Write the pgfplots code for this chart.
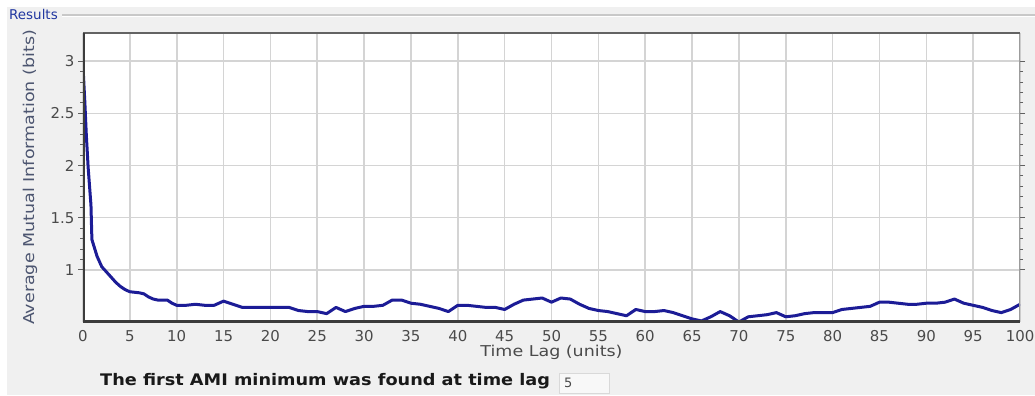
\documentclass[border=0pt]{standalone}
\usepackage{graphicx}
\usepackage{pgfplots}
\pgfplotsset{compat=1.18}
\usepackage{fontspec}
\setmainfont{DejaVu Sans}
\definecolor{bg}{HTML}{F0F0F0}
\definecolor{gridgrey}{HTML}{D4D4D4}
\definecolor{groupline}{HTML}{C8C8C8}
\definecolor{resblue}{HTML}{2036A0}
\definecolor{curve}{RGB}{28,28,150}
\definecolor{labgrey}{HTML}{4A4A4A}
\definecolor{ylabcol}{HTML}{4C5570}
\definecolor{tickgrey}{HTML}{606060}
\definecolor{frameA}{HTML}{3C3C3C}
\definecolor{frameB}{HTML}{9C9C9C}
\begin{document}
\begin{tikzpicture}[x=1bp,y=1bp]
\path[use as bounding box] (0,0) rectangle (1035,395);
\fill[white] (0,0) rectangle (1035,395);
\fill[bg] (7,0) rectangle (1035,388);
\draw[groupline, line width=1.5bp] (62,380) -- (1035,380);
\draw[white, line width=1bp] (62,378.3) -- (1035,378.3);
\node[anchor=west, inner sep=0, text=resblue, font=\fontsize{13.5}{15}\selectfont] at (9,380.5) {Results};
\begin{axis}[
  at={(83bp,73bp)}, anchor=south west,
  scale only axis, width=937bp, height=289bp,
  xmin=0, xmax=100, ymin=0.5, ymax=3.27,
  xtick={0,5,...,100}, ytick={1,1.5,2,2.5,3},
  minor y tick num=4,
  grid=major,
  major grid style={draw=gridgrey, line width=1.6bp},
  axis background/.style={fill=white},
  axis line style={draw=none},
  xtick style={draw=none},
  ytick style={draw=tickgrey, line width=0.9bp},
  tick align=outside,
  major tick length=5bp, minor tick length=3bp,
  ticklabel style={font=\fontsize{15}{17}\selectfont, text=labgrey},
  /pgf/number format/assume math mode=true,
  xlabel={\scalebox{1.17}[1]{Time Lag (units)}},
  xlabel style={at={(axis description cs:0.5,-0.104)}, anchor=center, font=\fontsize{15}{17}\selectfont, text=labgrey},
  ylabel={\scalebox{1.17}[1]{Average Mutual Information (bits)}},
  ylabel style={at={(axis description cs:-0.0566,0.5)}, anchor=center, font=\fontsize{15}{17}\selectfont, text=ylabcol},
]
\addplot[curve, line width=3bp, line join=round] coordinates {
(0,2.95) (0.2,2.6) (0.35,2.3) (0.55,1.98) (0.85,1.62) (0.95,1.29)
(1.5,1.13) (2,1.03) (2.5,0.98) (3,0.93) (3.5,0.88) (4,0.84) (4.5,0.81) (5,0.79)
(6,0.78) (6.5,0.77) (7,0.74) (7.5,0.72) (8,0.71) (9,0.71) (9.5,0.68) (10,0.66)
(11,0.66) (12,0.67) (13,0.66) (14,0.66) (15,0.70) (16,0.67) (17,0.64) (18,0.64)
(19,0.64) (20,0.64) (21,0.64) (22,0.64) (23,0.61) (24,0.60) (25,0.60) (26,0.58)
(27,0.64) (28,0.60) (29,0.63) (30,0.65) (31,0.65) (32,0.66) (33,0.71) (34,0.71)
(35,0.68) (36,0.67) (37,0.65) (38,0.63) (39,0.60) (40,0.66) (41,0.66) (42,0.65)
(43,0.64) (44,0.64) (45,0.62) (46,0.67) (47,0.71) (48,0.72) (49,0.73) (50,0.69)
(51,0.73) (52,0.72) (53,0.67) (54,0.63) (55,0.61) (56,0.60) (57,0.58) (58,0.56)
(59,0.62) (60,0.60) (61,0.60) (62,0.61) (63,0.59) (64,0.56) (65,0.53) (66,0.51)
(67,0.55) (68,0.60) (69,0.56) (70,0.50) (71,0.55) (72,0.56) (73,0.57) (74,0.59)
(75,0.55) (76,0.56) (77,0.58) (78,0.59) (79,0.59) (80,0.59) (81,0.62) (82,0.63)
(83,0.64) (84,0.65) (85,0.69) (86,0.69) (87,0.68) (88,0.67) (89,0.67) (90,0.68)
(91,0.68) (92,0.69) (93,0.72) (94,0.68) (95,0.66) (96,0.64) (97,0.61) (98,0.59)
(99,0.62) (100,0.67)
};
\draw[frameB, line width=1.5bp] (axis description cs:1,0) -- (axis description cs:1,1);
\draw[frameA!80, line width=2bp] (axis description cs:0,1) -- (axis description cs:1,1);
\draw[frameA, line width=3bp] (axis description cs:0,0) -- (axis description cs:0,1);
\draw[frameA, line width=3.5bp] (axis description cs:0,0) -- (axis description cs:1,0);
\end{axis}
\node[anchor=west, inner sep=0, text=black!90, font=\bfseries\fontsize{16}{18}\selectfont] at (100,14) {\scalebox{1.11}[1]{The first AMI minimum was found at time lag}};
\filldraw[fill=white!50!bg, draw=black!15, line width=1bp] (559,2) rectangle (609,22);
\node[anchor=west, inner sep=0, text=labgrey, font=\fontsize{13}{15}\selectfont] at (564,12) {5};
\end{tikzpicture}
\end{document}
